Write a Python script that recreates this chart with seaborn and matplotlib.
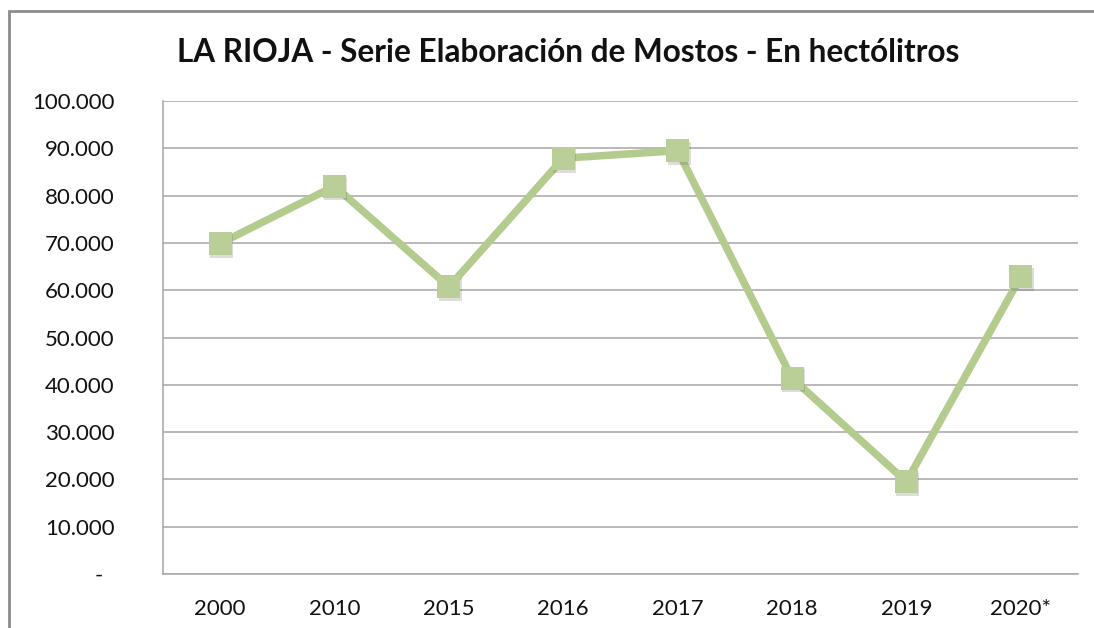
import pandas as pd
import matplotlib.pyplot as plt
import seaborn as sns
from matplotlib.ticker import FixedLocator, FuncFormatter
from matplotlib.patches import Rectangle
import matplotlib.patheffects as pe

years = ['2000', '2010', '2015', '2016', '2017', '2018', '2019', '2020*']
hectolitros = [69900, 82000, 60700, 87900, 89500, 41400, 19500, 62900]

df = pd.DataFrame({'Año': years, 'Hectolitros': hectolitros})

sns.set_style('white')
plt.rcParams['font.family'] = ['Lato', 'DejaVu Sans']

fig = plt.figure(figsize=(10.94, 6.28), dpi=100)
ax = fig.add_axes([163 / 1094, 54 / 628, 915 / 1094, 473 / 628])

sns.lineplot(data=df, x='Año', y='Hectolitros', ax=ax, color='#B3CB8D',
             linewidth=5.4)
sns.scatterplot(data=df, x='Año', y='Hectolitros', ax=ax, marker='s', s=275,
                color='#B9CF97', edgecolor='none', zorder=3,
                path_effects=[pe.SimplePatchShadow(offset=(1, -2), shadow_rgbFace='#555555',
                                                   alpha=0.2), pe.Normal()])

ax.set_xlim(-0.5, len(years) - 0.5)
ax.set_ylim(0, 100000)
ax.yaxis.set_major_locator(FixedLocator(range(0, 100001, 10000)))


def fmt(v, pos):
    if v == 0:
        return '-  '
    return f'{int(v):,}'.replace(',', '.')


ax.yaxis.set_major_formatter(FuncFormatter(fmt))
ax.grid(axis='y', color='#A6A6A6', linewidth=1.1)
ax.set_axisbelow(True)

ax.set_xticks(range(len(years)))
ax.set_xticklabels(years)
ax.set_xticks([i - 0.5 for i in range(len(years) + 1)], minor=True)
ax.tick_params(axis='x', which='major', length=0, pad=18, labelsize=16, colors='#111111')
ax.tick_params(axis='x', which='minor', length=7, width=1.1, color='#A6A6A6')
ax.tick_params(axis='y', which='major', length=8, width=1.1, color='#A6A6A6',
               pad=27, labelsize=16, colors='#111111')
ax.tick_params(axis='y', colors='#A6A6A6', labelcolor='#111111')

for side in ['top', 'right']:
    ax.spines[side].set_visible(False)
for side in ['left', 'bottom']:
    ax.spines[side].set_color('#A6A6A6')
    ax.spines[side].set_linewidth(1.1)

ax.set_xlabel('')
ax.set_ylabel('')

fig.text(568 / 1094, 1 - 52 / 628, 'LA RIOJA - Serie Elaboración de Mostos - En hectólitros',
         ha='center', va='center', fontsize=22.7, fontweight='bold', color='#111111')

# chart area border, cropped at right and bottom as in the source picture
fig.patches.append(Rectangle((9 / 1094, -0.1), 1.2, 1 - 11 / 628 + 0.1,
                             transform=fig.transFigure, fill=False,
                             edgecolor='#8C8C8C', linewidth=2))

fig.savefig('out.png', dpi=100)
